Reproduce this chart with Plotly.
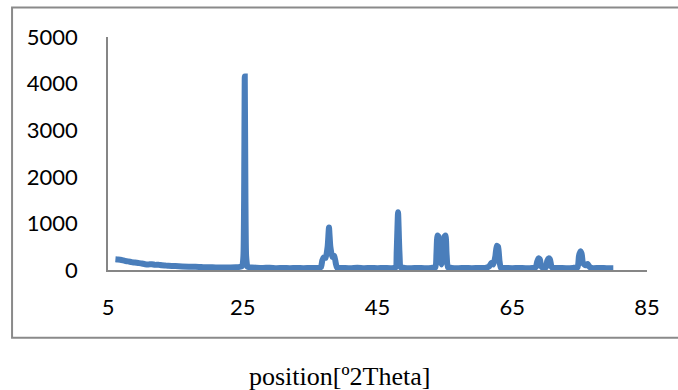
import plotly.graph_objects as go

two_theta = [6.1, 6.5, 7.0, 7.5, 8.0, 8.5, 9.0, 9.5, 10.0, 10.5, 11.0, 11.5, 12.0, 12.5,
             13.0, 13.5, 14.0, 15.0, 16.0, 17.0, 18.0, 19.0, 20.0, 21.0, 22.0, 23.0, 24.0,
             24.9, 25.1, 25.2, 25.3, 25.4, 25.5, 25.7,
             26.0, 27.0, 28.0, 29.0, 30.0, 31.0, 32.0, 33.0, 34.0, 35.0, 36.0, 36.6,
             36.8, 37.0, 37.3, 37.6, 37.8, 38.0, 38.3, 38.6, 38.8, 39.0,
             40.0, 41.0, 42.0, 43.0, 44.0, 45.0, 46.0, 47.0, 47.7,
             47.85, 48.05, 48.25, 48.45,
             49.0, 50.0, 51.0, 52.0, 53.0, 53.6,
             53.75, 53.9, 54.05, 54.25, 54.5, 54.75, 54.95, 55.1, 55.25, 55.45,
             56.0, 57.0, 58.0, 59.0, 60.0, 61.0, 61.6,
             61.9, 62.2, 62.5, 62.7, 62.9, 63.1, 63.3,
             64.0, 65.0, 66.0, 67.0, 68.0, 68.5,
             68.7, 68.9, 69.1, 69.3, 69.6, 70.0, 70.2, 70.4, 70.6, 70.8, 71.0,
             72.0, 73.0, 74.0, 74.7,
             74.9, 75.1, 75.3, 75.5, 75.9, 76.2, 76.4, 76.7,
             77.0, 78.0, 79.0, 80.0]
intensity = [230, 225, 215, 195, 185, 170, 160, 150, 140, 125, 120, 125, 110, 115,
             100, 95, 90, 85, 75, 70, 68, 62, 60, 55, 52, 55, 58,
             80, 300, 1500, 4150, 1500, 300, 70,
             60, 50, 45, 50, 40, 45, 40, 45, 40, 45, 45, 60,
             200, 270, 260, 500, 910, 500, 280, 300, 150, 50,
             45, 40, 50, 40, 45, 40, 45, 40, 60,
             400, 1240, 400, 60,
             45, 40, 45, 40, 45, 60,
             350, 740, 720, 300, 120, 300, 720, 740, 350, 60,
             45, 40, 45, 40, 45, 45, 80,
             150, 120, 300, 520, 500, 200, 50,
             45, 40, 45, 40, 45, 60,
             180, 250, 230, 80, 45, 60, 200, 250, 230, 80, 45,
             45, 40, 45, 60,
             300, 400, 350, 150, 100, 130, 80, 45,
             40, 45, 40, 40]

x_ticks = [5, 25, 45, 65, 85]
y_ticks = [0, 1000, 2000, 3000, 4000, 5000]

fig = go.Figure()
fig.add_trace(go.Scatter(x=two_theta, y=intensity, mode="lines",
                         line=dict(color="#4A7EBB", width=6, shape="spline", smoothing=0.5),
                         showlegend=False))

tick_font = dict(family="Lato, Open Sans, sans-serif", size=22, color="#000000")

fig.update_layout(
    width=678, height=390,
    margin=dict(l=108, r=31, t=37, b=120),
    paper_bgcolor="white", plot_bgcolor="white",
    xaxis=dict(range=[5, 85], tickvals=x_ticks, ticktext=[str(v) for v in x_ticks],
               showgrid=False, zeroline=False, showline=True, linecolor="#868686",
               linewidth=1.5, ticks="", tickfont=tick_font, ticklabelstandoff=17),
    yaxis=dict(range=[0, 5000], tickvals=y_ticks, ticktext=[str(v) for v in y_ticks],
               showgrid=False, zeroline=False, showline=True, linecolor="#868686",
               linewidth=1.5, ticks="", tickfont=tick_font, ticklabelstandoff=24),
    shapes=[dict(type="rect", xref="paper", yref="paper",
                 x0=-0.178, x1=1.2, y0=-0.2906, y1=1.1266,
                 line=dict(color="#8A8A8A", width=2), layer="below")],
    annotations=[dict(text="position[º2Theta]", xref="paper", yref="paper",
                      x=0.4286, y=-0.459, xanchor="center", yanchor="middle",
                      showarrow=False,
                      font=dict(family="Liberation Serif, Times New Roman, serif",
                                size=26, color="#000000"))],
)

fig.write_html("out.html")
